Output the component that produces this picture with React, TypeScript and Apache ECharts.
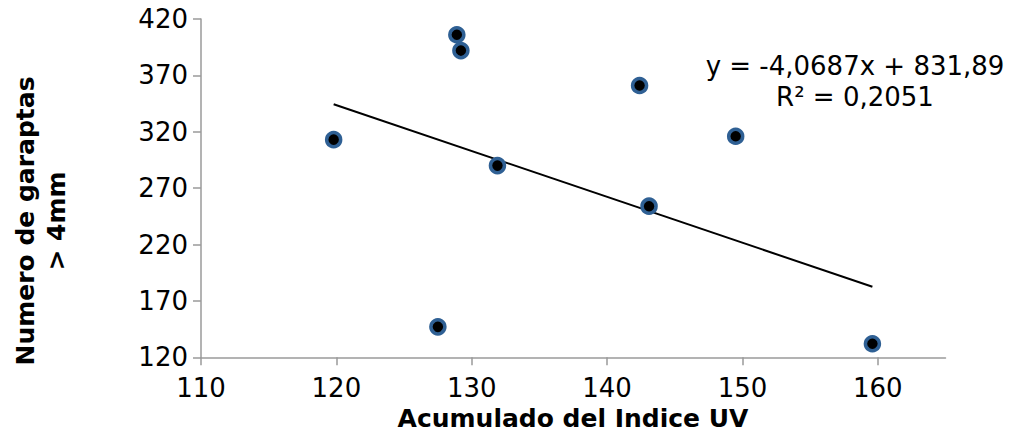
import React, { useEffect, useRef } from "react";
import * as echarts from "echarts";

const uvAccum = [119.8, 127.5, 128.9, 129.2, 131.9, 142.4, 143.1, 149.5, 159.6];
const ticks = [313, 147, 406, 392, 290, 361, 254, 316, 132];
const xTicks = [110, 120, 130, 140, 150, 160];
const yTicks = [120, 170, 220, 270, 320, 370, 420];
const slope = -4.0687;
const intercept = 831.89;
const eqLines = ["y = -4,0687x + 831,89", "R² = 0,2051"];
const xTitle = "Acumulado del Indice UV";
const yTitle = ["Numero de garaptas", "> 4mm"];

const FONT = "DejaVu Sans, Verdana, sans-serif";

export default function App() {
  const ref = useRef<HTMLDivElement>(null);
  useEffect(() => {
    document.body.style.margin = "0";
    if (!ref.current) return;
    const chart = echarts.init(ref.current, undefined, { renderer: "svg" });
    const xMin = Math.min(...uvAccum);
    const xMax = Math.max(...uvAccum);
    const trend = [
      [xMin, slope * xMin + intercept],
      [xMax, slope * xMax + intercept],
    ];
    const axisLine = { show: true, lineStyle: { color: "#9a9a9a", width: 1.5 } };
    chart.setOption({
      animation: false,
      backgroundColor: "#ffffff",
      grid: { left: 201, right: 70.5, top: 19, bottom: 74.7, containLabel: false },
      xAxis: {
        type: "value",
        min: 110,
        max: 165,
        interval: 10,
        axisLine,
        axisTick: { show: true, length: 8, lineStyle: { color: "#9a9a9a", width: 1.5 }, customValues: xTicks },
        axisLabel: { margin: 18, fontSize: 26, color: "#000", fontFamily: FONT, customValues: xTicks },
        splitLine: { show: false },
      },
      yAxis: {
        type: "value",
        min: 120,
        max: 420,
        interval: 50,
        axisLine,
        axisTick: { show: true, length: 8, lineStyle: { color: "#9a9a9a", width: 1.5 }, customValues: yTicks },
        axisLabel: { margin: 13, fontSize: 26, color: "#000", fontFamily: FONT, customValues: yTicks },
        splitLine: { show: false },
      },
      series: [
        {
          type: "line",
          data: trend,
          symbol: "none",
          lineStyle: { color: "#000", width: 2 },
          z: 1,
        },
        {
          type: "scatter",
          data: uvAccum.map((x, i) => [x, ticks[i]]),
          symbol: "circle",
          symbolSize: 14,
          itemStyle: { color: "#000", borderColor: "#2f6094", borderWidth: 3.5, opacity: 1 },
          z: 2,
        },
      ],
      graphic: [
        {
          type: "text",
          x: 855,
          y: 81,
          style: {
            text: eqLines.join("\n"),
            font: `26px ${FONT}`,
            fill: "#000",
            textAlign: "center",
            textVerticalAlign: "middle",
            lineHeight: 31,
          },
        },
        {
          type: "text",
          x: 573,
          y: 418,
          style: {
            text: xTitle,
            font: `bold 25px ${FONT}`,
            fill: "#000",
            textAlign: "center",
            textVerticalAlign: "middle",
          },
        },
        {
          type: "text",
          x: 41,
          y: 221,
          rotation: Math.PI / 2,
          style: {
            text: yTitle.join("\n"),
            font: `bold 25px ${FONT}`,
            fill: "#000",
            textAlign: "center",
            textVerticalAlign: "middle",
            lineHeight: 31,
          },
        },
      ],
    });
    return () => chart.dispose();
  }, []);
  return <div ref={ref} style={{ width: 1016, height: 432 }} />;
}
